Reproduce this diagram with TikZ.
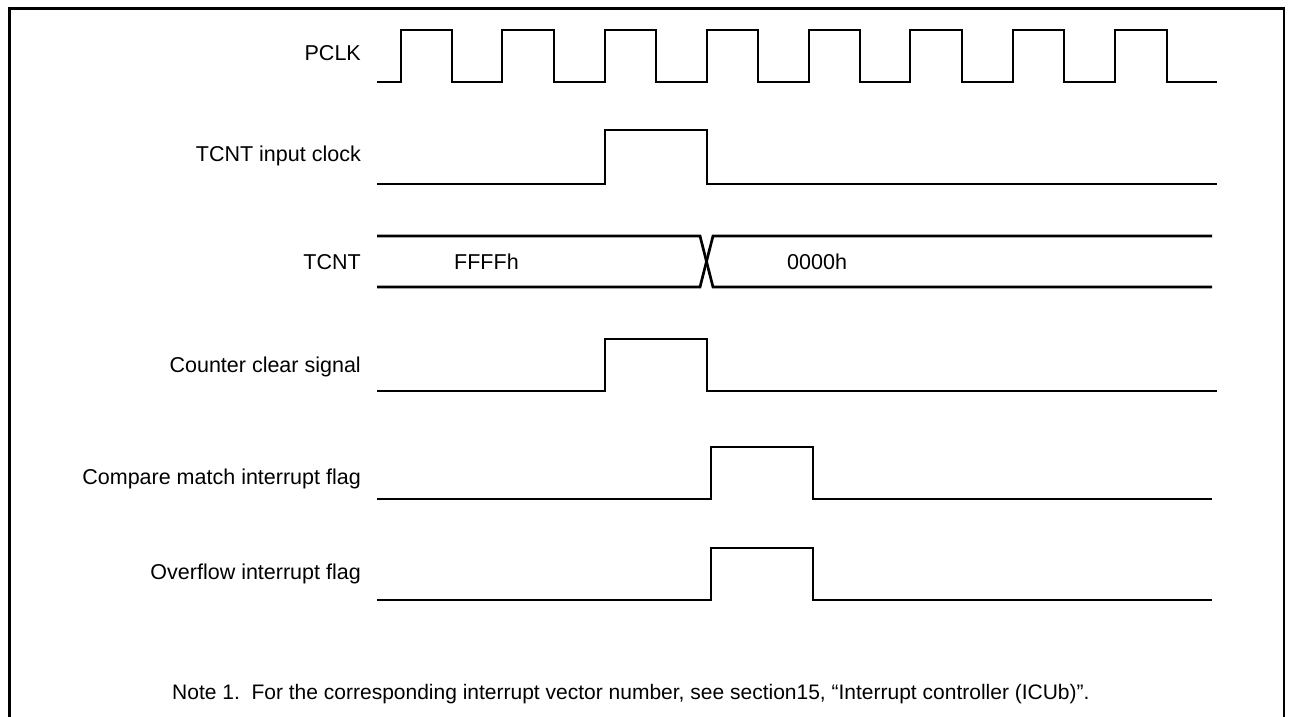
\documentclass[tikz,border=0pt]{standalone}
\usepackage{fontspec}
\setmainfont{Liberation Sans}
\begin{document}
\begin{tikzpicture}[x=1pt,y=-1pt,
  wave/.style={line width=2.7pt,line join=miter},
  lbl/.style={anchor=base east,inner sep=0pt,font=\fontsize{21.5}{26}\selectfont},
  val/.style={anchor=base west,inner sep=0pt,font=\fontsize{21.5}{26}\selectfont},
  notestyle/.style={anchor=base west,inner sep=0pt,font=\fontsize{21}{26}\selectfont}]
\useasboundingbox (0,0) rectangle (1291,717);
% frame
\draw[line width=3pt] (8,9) -- (1285,9);
\draw[line width=3pt] (9.5,7.5) -- (9.5,717);
\draw[line width=1.6pt] (1284,8) -- (1284,717);
% labels
\node[lbl] (lpclk) at (361,61) {PCLK};
\node[lbl] (lin) at (361,161) {TCNT input clock};
\node[lbl] (ltcnt) at (361,269) {TCNT};
\node[lbl] (lclr) at (361,372) {Counter clear signal};
\node[lbl] (lcm) at (361,484) {Compare match interrupt flag};
\node[lbl] (lov) at (361,579) {Overflow interrupt flag};
% PCLK
\draw[wave] (377,82) -- (401,82) -- (401,30) -- (452,30) -- (452,82)
  -- (502,82) -- (502,30) -- (554,30) -- (554,82)
  -- (605,82) -- (605,30) -- (656,30) -- (656,82)
  -- (707,82) -- (707,30) -- (758,30) -- (758,82)
  -- (809,82) -- (809,30) -- (860,30) -- (860,82)
  -- (910,82) -- (910,30) -- (962,30) -- (962,82)
  -- (1013,82) -- (1013,30) -- (1064,30) -- (1064,82)
  -- (1115,82) -- (1115,30) -- (1167,30) -- (1167,82) -- (1217,82);
% TCNT input clock
\draw[wave] (377,184) -- (605,184) -- (605,130) -- (707,130) -- (707,184) -- (1217,184);
% TCNT
\draw[wave] (377,236) -- (700,236) -- (713,287) -- (1212,287);
\draw[wave] (377,287) -- (700,287) -- (713,236) -- (1212,236);
\node[val] (vff) at (454,269) {FFFFh};
\node[val] (v00) at (787,269) {0000h};
% Counter clear
\draw[wave] (377,391) -- (605,391) -- (605,339) -- (707,339) -- (707,391) -- (1217,391);
% Compare match
\draw[wave] (377,499) -- (711,499) -- (711,447) -- (813,447) -- (813,499) -- (1212,499);
% Overflow
\draw[wave] (377,600) -- (711,600) -- (711,548) -- (813,548) -- (813,600) -- (1212,600);
% note
\node[notestyle] (note) at (172,699) {Note 1.\ \ For the corresponding interrupt vector number, see section15, “Interrupt controller (ICUb)”.};
\end{tikzpicture}
\end{document}
